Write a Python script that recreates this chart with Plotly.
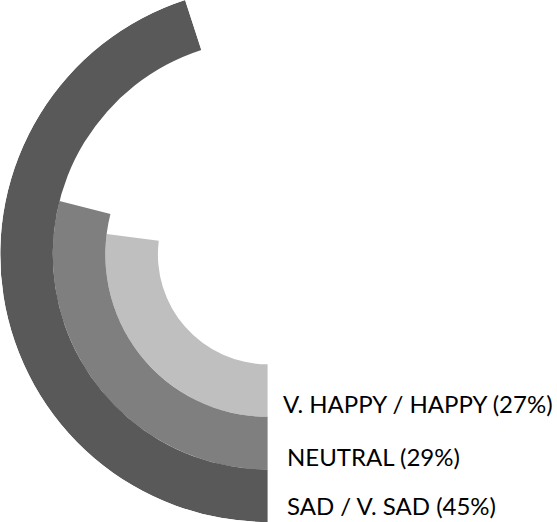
import plotly.graph_objects as go

# Survey mood shares, drawn as concentric radial bars starting at 6 o'clock
categories = ["V. HAPPY / HAPPY", "NEUTRAL", "SAD / V. SAD"]
percent = [27, 29, 45]
colors = ["#bfbfbf", "#7f7f7f", "#595959"]

ring_width = 1.0
hole = 2.09          # empty space in the middle, in ring widths
label_y = [403, 456, 505]   # label centres, px from top
label_x = [281, 285, 285]

W, H = 557, 522

theta = [p * 3.6 / 2 for p in percent]
width = [p * 3.6 for p in percent]
base = [hole + i * ring_width for i in range(len(percent))]

fig = go.Figure()
fig.add_trace(go.Barpolar(
    r=[ring_width] * len(percent),
    base=base,
    theta=theta,
    width=width,
    marker=dict(color=colors, line=dict(width=0)),
    hoverinfo="skip",
))

outer = hole + len(percent) * ring_width
sector_start = 270 - max(percent) * 3.6

for name, p, x, y in zip(categories, percent, label_x, label_y):
    fig.add_annotation(
        text=f"{name} ({p}%)",
        xref="paper", yref="paper",
        x=x / W, y=1 - y / H,
        xanchor="left", yanchor="middle",
        showarrow=False,
        font=dict(family="Lato", size=24, color="#000000"),
    )

fig.update_layout(
    width=W, height=H,
    margin=dict(l=0, r=0, t=0, b=0),
    paper_bgcolor="white",
    plot_bgcolor="white",
    showlegend=False,
    polar=dict(
        domain=dict(x=[0, 268 / W], y=[0, 1]),
        sector=[sector_start, 270],
        bgcolor="white",
        radialaxis=dict(range=[0, outer], visible=False, showgrid=False),
        angularaxis=dict(rotation=270, direction="clockwise", visible=False, showgrid=False),
    ),
)

fig.write_html("out.html")
